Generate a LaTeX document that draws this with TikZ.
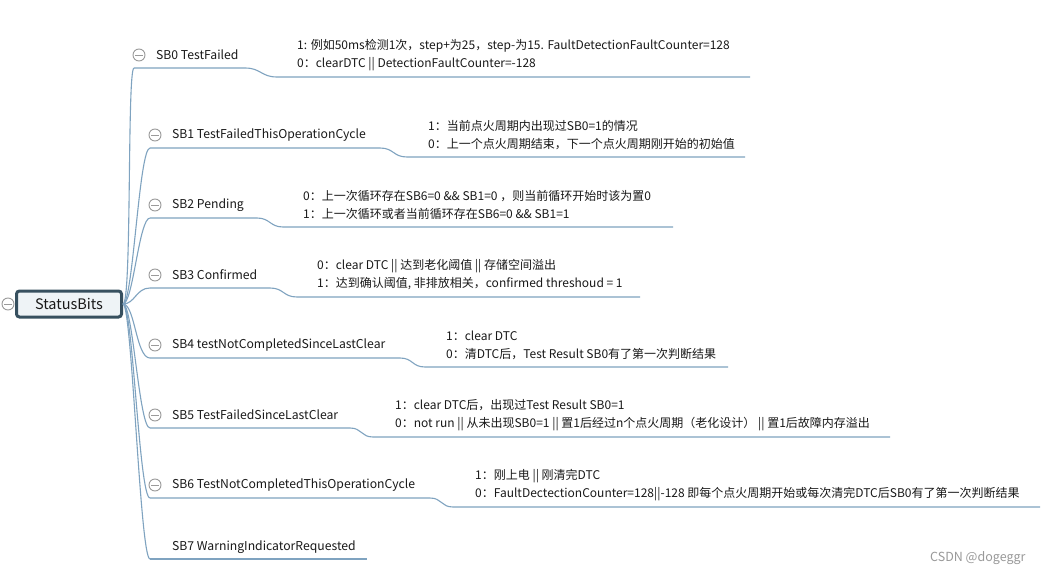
\documentclass[tikz,border=0pt]{standalone}
\usepackage{fontspec}
\usepackage{xcolor}
\usepackage{tikz}
\usetikzlibrary{positioning,calc}
\newfontfamily\cjk{Noto Sans CJK SC}
\definecolor{branchblue}{HTML}{7FA3C0}
\definecolor{rootedge}{HTML}{37505F}
\definecolor{rootfill}{HTML}{EEF3F6}
\definecolor{foldgray}{HTML}{9A9A9A}

\begin{document}
\begin{tikzpicture}[
  x=1pt, y=-1pt,
  rootbox/.style={draw=rootedge, fill=rootfill, line width=3pt, rounded corners=3pt,
    minimum width=105pt, minimum height=26pt, inner sep=0pt,
    font=\cjk\fontsize{14.5}{16}\selectfont, text=black!90},
  bit/.style={anchor=west, inner sep=0pt, font=\cjk\fontsize{12.2}{15}\selectfont, text=black!90},
  detail/.style={anchor=west, inner sep=0pt, align=left,
    font=\cjk\fontsize{12}{18}\selectfont, text=black!90},
  fold/.style={circle, draw=foldgray, line width=0.9pt, minimum size=12pt, inner sep=0pt,
    path picture={\draw[foldgray, line width=0.9pt]
      ([xshift=-4pt]path picture bounding box.center) -- ([xshift=4pt]path picture bounding box.center);}},
  branch/.style={draw=branchblue, line width=1.1pt},
  wmark/.style={anchor=west, inner sep=0pt, font=\cjk\fontsize{12.5}{14}\selectfont, text=black!40}
]
\fill[white] (0,0) rectangle (1041,575);
\useasboundingbox (0,0) rectangle (1041,575);

% root
\node[rootbox] (sb) at (69,304) {StatusBits};
\node[fold, fill=white] (sbfold) at (8,304) {};

% bits
\node[bit] (b0) at (156,55) {SB0 TestFailed};
\node[bit] (b1) at (172,135) {SB1 TestFailedThisOperationCycle};
\node[bit] (b2) at (172,205) {SB2 Pending};
\node[bit] (b3) at (172,275) {SB3 Confirmed};
\node[bit] (b4) at (172,345) {SB4 testNotCompletedSinceLastClear};
\node[bit] (b5) at (172,415) {SB5 TestFailedSinceLastClear};
\node[bit] (b6) at (172,485) {SB6 TestNotCompletedThisOperationCycle};
\node[bit] (b7) at (172,547) {SB7 WarningIndicatorRequested};

\node[fold] (f0) at (139,55) {};
\node[fold] (f1) at (155,135) {};
\node[fold] (f2) at (155,205) {};
\node[fold] (f3) at (155,275) {};
\node[fold] (f4) at (155,345) {};
\node[fold] (f5) at (155,415) {};
\node[fold] (f6) at (155,485) {};

% details
\node[detail] (d0) at (297,55) {1: 例如50ms检测1次，step+为25，step-为15. FaultDetectionFaultCounter=128\\0：clearDTC || DetectionFaultCounter=-128};
\node[detail] (d1) at (428,135) {1：当前点火周期内出现过SB0=1的情况\\0：上一个点火周期结束，下一个点火周期刚开始的初始值};
\node[detail] (d2) at (303,205) {0：上一次循环存在SB6=0 \&\& SB1=0 ，则当前循环开始时该为置0\\1：上一次循环或者当前循环存在SB6=0 \&\& SB1=1};
\node[detail] (d3) at (317,275) {0：clear DTC || 达到老化阈值 || 存储空间溢出\\1：达到确认阈值, 非排放相关，confirmed threshoud = 1};
\node[detail] (d4) at (446,345) {1：clear DTC\\0：清DTC后，Test Result SB0有了第一次判断结果};
\node[detail] (d5) at (395,415) {1：clear DTC后，出现过Test Result SB0=1\\0：not run || 从未出现SB0=1 || 置1后经过n个点火周期（老化设计） || 置1后故障内存溢出};
\node[detail] (d6) at (475,485) {1：刚上电 || 刚清完DTC\\0：FaultDectectionCounter=128||-128 即每个点火周期开始或每次清完DTC后SB0有了第一次判断结果};

% underline points
\coordinate (a0) at (134,68);  \coordinate (e0) at (245,68);  \coordinate (h0) at (277,77);  \coordinate (g0) at (750,77);
\coordinate (a1) at (150,148); \coordinate (e1) at (380,148); \coordinate (h1) at (407,157); \coordinate (g1) at (745,157);
\coordinate (a2) at (150,218); \coordinate (e2) at (257,218); \coordinate (h2) at (283,227); \coordinate (g2) at (673,227);
\coordinate (a3) at (150,288); \coordinate (e3) at (270,288); \coordinate (h3) at (297,297); \coordinate (g3) at (640,297);
\coordinate (a4) at (150,358); \coordinate (e4) at (400,358); \coordinate (h4) at (425,367); \coordinate (g4) at (728,367);
\coordinate (a5) at (150,428); \coordinate (e5) at (350,428); \coordinate (h5) at (373,437); \coordinate (g5) at (890,437);
\coordinate (a6) at (150,498); \coordinate (e6) at (430,498); \coordinate (h6) at (453,507); \coordinate (g6) at (1040,507);
\coordinate (a7) at (150,559); \coordinate (e7) at (367,559);

% trunk
\draw[branch] (sb.east) .. controls +(9,0) and +(-7,0) .. (a0);
\draw[branch] (sb.east) .. controls +(10,0) and +(-11,0) .. (a1);
\draw[branch] (sb.east) .. controls +(10,0) and +(-11,0) .. (a2);
\draw[branch] (sb.east) .. controls +(12,0) and +(-14,0) .. (a3);
\draw[branch] (sb.east) .. controls +(12,0) and +(-14,0) .. (a4);
\draw[branch] (sb.east) .. controls +(10,0) and +(-11,0) .. (a5);
\draw[branch] (sb.east) .. controls +(10,0) and +(-11,0) .. (a6);
\draw[branch] (sb.east) .. controls +(9,0) and +(-10,0) .. (a7);

% underlines
\draw[branch] (a0) -- (e0) .. controls +(16,0) and +(-16,0) .. (h0) -- (g0);
\draw[branch] (a1) -- (e1) .. controls +(14,0) and +(-14,0) .. (h1) -- (g1);
\draw[branch] (a2) -- (e2) .. controls +(13,0) and +(-13,0) .. (h2) -- (g2);
\draw[branch] (a3) -- (e3) .. controls +(14,0) and +(-14,0) .. (h3) -- (g3);
\draw[branch] (a4) -- (e4) .. controls +(13,0) and +(-13,0) .. (h4) -- (g4);
\draw[branch] (a5) -- (e5) .. controls +(12,0) and +(-12,0) .. (h5) -- (g5);
\draw[branch] (a6) -- (e6) .. controls +(12,0) and +(-12,0) .. (h6) -- (g6);
\draw[branch] (a7) -- (e7);

\node[wmark] (mark) at (930,558) {CSDN @dogeggr};
\end{tikzpicture}
\end{document}
